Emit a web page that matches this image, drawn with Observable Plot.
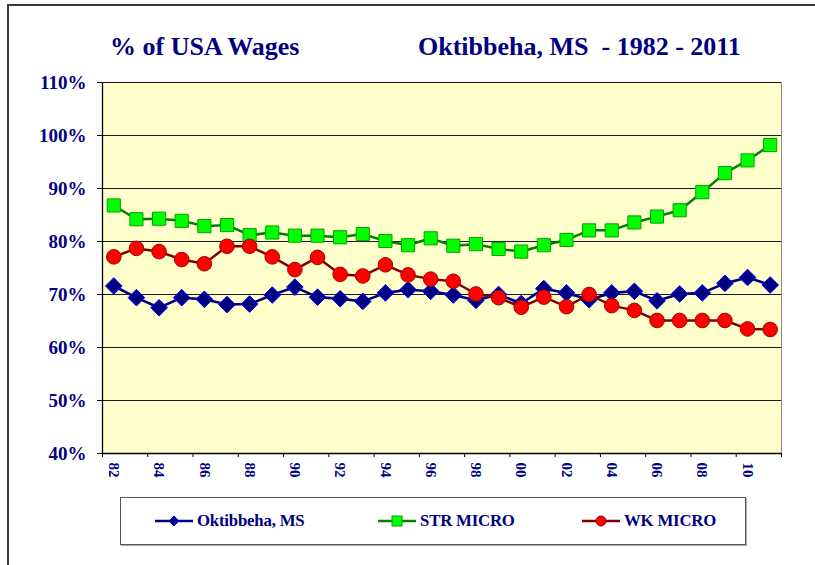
<!DOCTYPE html>
<html>
<head>
<meta charset="utf-8">
<script src="https://cdn.jsdelivr.net/npm/d3@7"></script>
<script src="https://cdn.jsdelivr.net/npm/@observablehq/plot@0.6"></script>
<style>
  html, body { margin: 0; padding: 0; overflow: hidden; background: #fff; }
  #wrap { position: relative; width: 815px; height: 565px; overflow: hidden; font-family: "Liberation Serif", "DejaVu Serif", serif; }
  #border { position: absolute; left: 7px; top: 4px; width: 1000px; height: 1000px; border-left: 2px solid #3a3a3a; border-top: 2px solid #3a3a3a; }
  #titles { position: relative; height: 70px; }
  .title { position: absolute; top: 34px; font-size: 26px; line-height: 26px; font-weight: bold; color: #000080; white-space: pre; }
  #chart { position: relative; height: 420px; }
  #legend { position: absolute; left: 120px; top: 497px; width: 624px; height: 46px; border: 1.5px solid #555; box-shadow: 1px 1px 0 #aaa; background: #fff; }
  .item { position: absolute; top: 13px; height: 20px; display: flex; align-items: center; font-size: 16.8px; font-weight: bold; color: #000080; letter-spacing: -0.2px; }
  .item svg { margin-right: 4px; }
</style>
</head>
<body>
<div id="wrap">
  <div id="border"></div>
  <div id="titles">
    <span class="title" style="left:110px">% of USA Wages</span>
    <span class="title" style="left:418px">Oktibbeha, MS  - 1982 - 2011</span>
  </div>
  <div id="chart"></div>
  <div id="legend"></div>
</div>
<script>
// ---- data ----
const years = [1982,1983,1984,1985,1986,1987,1988,1989,1990,1991,1992,1993,1994,1995,1996,1997,1998,1999,2000,2001,2002,2003,2004,2005,2006,2007,2008,2009,2010,2011];
const oktibbeha = [71.6,69.4,67.5,69.4,69.1,68.1,68.2,69.9,71.4,69.5,69.2,68.7,70.3,70.9,70.6,69.9,68.9,70.0,68.3,71.1,70.3,69.0,70.3,70.6,68.8,70.1,70.3,72.1,73.2,71.8];
const strMicro = [86.8,84.2,84.3,83.9,82.9,83.1,81.2,81.7,81.1,81.1,80.8,81.4,80.1,79.3,80.6,79.2,79.5,78.6,78.1,79.3,80.3,82.1,82.1,83.6,84.7,85.9,89.3,92.9,95.3,98.2];
const wkMicro = [77.1,78.7,78.1,76.6,75.8,79.1,79.1,77.1,74.7,77.0,73.8,73.5,75.6,73.7,72.9,72.5,70.1,69.4,67.6,69.5,67.7,70.0,67.9,67.0,65.1,65.1,65.1,65.1,63.5,63.4];
const yTicks = [40,50,60,70,80,90,100,110];
const xLabelYears = [1982,1984,1986,1988,1990,1992,1994,1996,1998,2000,2002,2004,2006,2008,2010];
const seriesNames = ["Oktibbeha, MS", "STR MICRO", "WK MICRO"];

const rows = years.map((yr, i) => ({year: yr, okt: oktibbeha[i], str: strMicro[i], wk: wkMicro[i]}));
const xBounds = d3.range(0, years.length + 1, 2).map(i => years[0] - 0.5 + i);
const gridVals = yTicks.filter(v => v > yTicks[0]);

const font = '"Liberation Serif", "DejaVu Serif", serif';
const navy = "#000080";

const chart = Plot.plot({
  width: 815,
  height: 420,
  marginLeft: 102,
  marginRight: 34,
  marginTop: 12,
  marginBottom: 37,
  style: {fontFamily: font, fontWeight: "bold", background: "transparent", overflow: "visible"},
  x: {domain: [years[0] - 0.5, years[years.length - 1] + 0.5], axis: null},
  y: {domain: [40, 110], axis: null},
  marks: [
    Plot.frame({fill: "#ffffcc", stroke: "#8a8a8a"}),
    Plot.ruleY(gridVals, {stroke: "#1a1a1a", strokeWidth: 1}),
    Plot.ruleX([xBounds[0]], {stroke: "#000", strokeWidth: 1.3}),
    Plot.ruleY([yTicks[0]], {stroke: "#000", strokeWidth: 1.3}),
    Plot.axisY(yTicks, {anchor: "left", tickSize: 5, tickPadding: 11, tickFormat: d => d + "%", fontSize: 19, fontWeight: "bold", fill: navy, stroke: "#000", label: null}),
    Plot.axisX(xBounds, {anchor: "bottom", tickSize: 4, tickFormat: () => "", stroke: "#000", label: null}),
    Plot.axisX(xLabelYears, {anchor: "bottom", tickSize: 0, tickPadding: 9, tickRotate: 90, tickFormat: d => String(d).slice(2), fontSize: 15, fontWeight: "bold", fill: navy, label: null}),
    // Oktibbeha
    Plot.line(rows, {x: "year", y: "okt", stroke: "#000080", strokeWidth: 2.6}),
    Plot.dot(rows, {x: "year", y: "okt", symbol: "diamond2", r: 7.5, fill: "#000080", stroke: "#0000ff", strokeWidth: 1}),
    // STR MICRO
    Plot.line(rows, {x: "year", y: "str", stroke: "#008000", strokeWidth: 2.5}),
    Plot.dot(rows, {x: "year", y: "str", symbol: "square", r: 7.4, fill: "#00ff00", stroke: "#00a000", strokeWidth: 1}),
    // WK MICRO
    Plot.line(rows, {x: "year", y: "wk", stroke: "#800000", strokeWidth: 2.5}),
    Plot.dot(rows, {x: "year", y: "wk", r: 7.3, fill: "#ff0000", stroke: "#a00000", strokeWidth: 1})
  ]
});
document.getElementById("chart").appendChild(chart);

// ---- legend ----
const legendDefs = [
  {name: seriesNames[0], left: 34, line: "#000080", marker: '<path d="M19 5 L24 10 L19 15 L14 10 Z" fill="#000080" stroke="#0000ff" stroke-width="1"/>'},
  {name: seriesNames[1], left: 257, line: "#008000", marker: '<rect x="14" y="5" width="10" height="10" fill="#00ff00" stroke="#00a000" stroke-width="1"/>'},
  {name: seriesNames[2], left: 461, line: "#800000", marker: '<circle cx="19" cy="10" r="5" fill="#ff0000" stroke="#a00000" stroke-width="1"/>'}
];
const legend = document.getElementById("legend");
legendDefs.forEach(d => {
  const div = document.createElement("div");
  div.className = "item";
  div.style.left = d.left + "px";
  div.innerHTML = `<svg width="38" height="20"><line x1="0" y1="10" x2="38" y2="10" stroke="${d.line}" stroke-width="2.6"/>${d.marker}</svg><span>${d.name}</span>`;
  legend.appendChild(div);
});
</script>
</body>
</html>
